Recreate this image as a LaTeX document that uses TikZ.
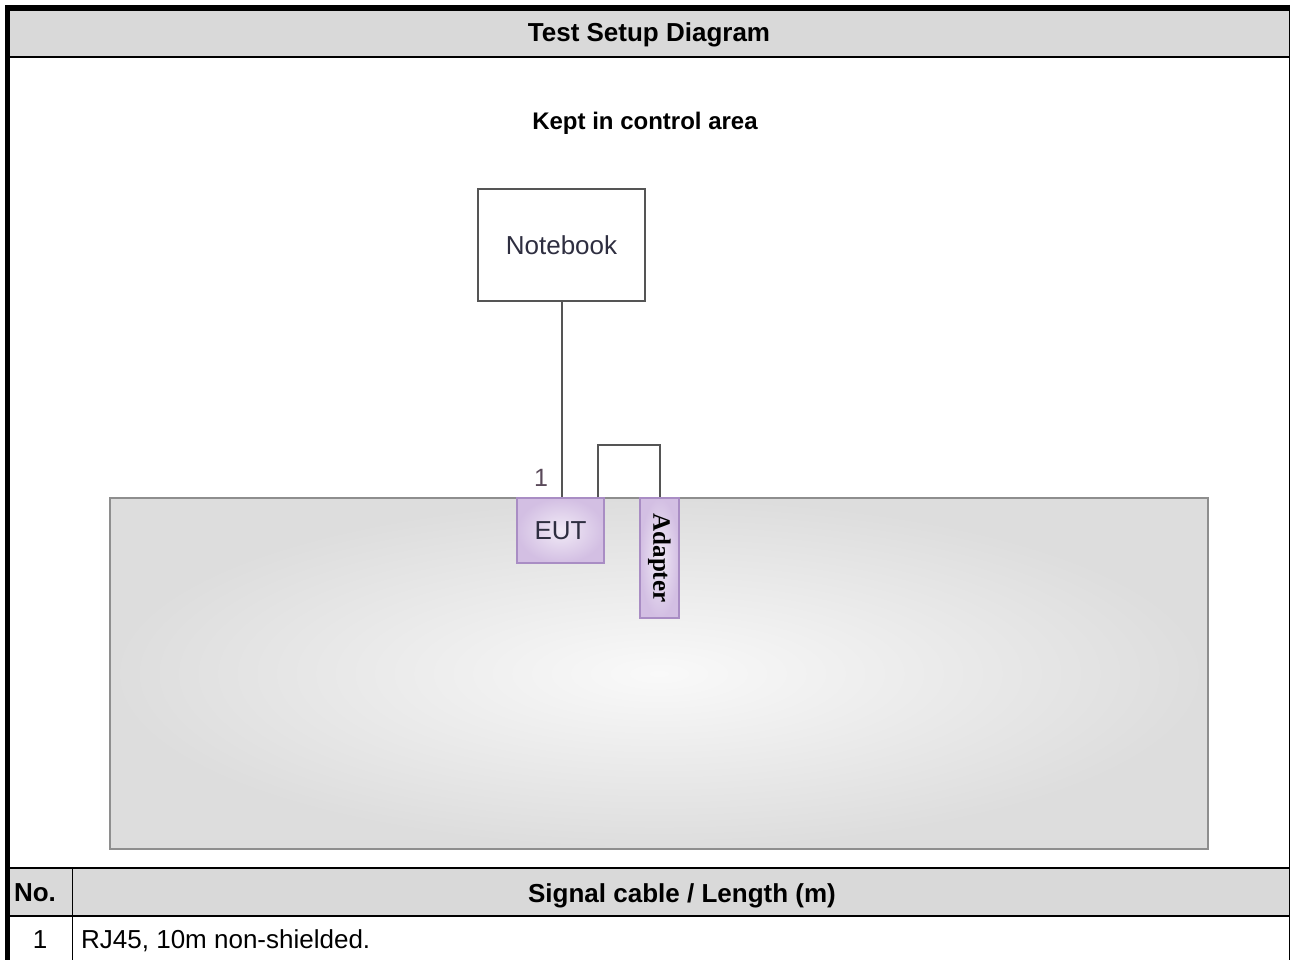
\documentclass[tikz,border=0pt]{standalone}
\usepackage{fontspec}
\setmainfont{Liberation Sans}
\newfontfamily\adapterfont{Liberation Serif}
\usetikzlibrary{positioning}

\definecolor{headgrey}{HTML}{D9D9D9}
\definecolor{wire}{HTML}{555555}
\definecolor{deskedge}{HTML}{8E8E8E}
\definecolor{deskmid}{HTML}{F9F9F9}
\definecolor{deskout}{HTML}{DDDDDD}
\definecolor{eutin}{HTML}{F1EAF6}
\definecolor{eutout}{HTML}{D3BFE3}
\definecolor{eutedge}{HTML}{A98DC4}
\definecolor{labelgrey}{HTML}{5A4A5A}
\definecolor{boxtext}{HTML}{2E2E40}

\newcommand{\bigtext}{\fontsize{26}{31}\selectfont}

\begin{document}
\begin{tikzpicture}[x=1pt,y=-1pt,
    every node/.style={inner sep=0pt},
    device/.style={draw=eutedge, line width=1.5pt, inner color=eutin, outer color=eutout},
    cable/.style={draw=wire, line width=2pt}]
  \useasboundingbox (0,0) rectangle (1291,960);

  % table frame
  \fill[headgrey] (10,11) rectangle (1290,56);
  \fill[headgrey] (10,868) rectangle (1290,915);
  \fill[black] (5,5) rectangle (1290,11);
  \fill[black] (5,5) rectangle (10,960);
  \draw[line width=1.5pt] (1289.3,5) -- (1289.3,960);
  \draw[line width=2.5pt] (10,57) -- (1290,57);
  \draw[line width=1.5pt] (10,868) -- (1290,868);
  \draw[line width=2.5pt] (10,916) -- (1290,916);
  \draw[line width=1.5pt] (72.5,868) -- (72.5,960);

  \node[anchor=base, font=\bigtext\bfseries] (title) at (649,42) {Test Setup Diagram};
  \node[anchor=base, font=\bigtext\bfseries] (nohead) at (35,901) {No.};
  \node[anchor=base, font=\bigtext\bfseries] (cablehead) at (682,902) {Signal cable / Length (m)};
  \node[anchor=base, font=\bigtext] (no1) at (40,948) {1};
  \node[anchor=base west, font=\bigtext] (cable1) at (81,948) {RJ45, 10m non-shielded.};

  % setup
  \node[anchor=base, font=\fontsize{24}{29}\selectfont\bfseries] (area) at (645,130) {Kept in control area};
  \node[draw=wire, line width=2pt, fill=white, minimum width=167pt, minimum height=112pt,
        font=\bigtext, text=boxtext] (notebook) at (561.5,245) {Notebook};

  \node[draw=deskedge, line width=2pt, inner color=deskmid, outer color=deskout,
        minimum width=1098pt, minimum height=351pt] (desk) at (659,673.5) {};

  \node[device, minimum width=87pt, minimum height=65pt, font=\bigtext, text=boxtext] (eut) at (560.5,530.5) {EUT};
  \node[device, minimum width=39pt, minimum height=120pt] (adapter) at (659.5,558)
        {\rotatebox{-90}{\fontsize{25}{30}\adapterfont\bfseries Adapter}};

  \draw[cable] (notebook.south) -- (notebook.south |- eut.north);
  \draw[cable] ([xshift=-7pt]eut.north east) -- ++(0,-52) -| (adapter.north);
  \node[anchor=base, font=\fontsize{25}{30}\selectfont, text=labelgrey] (lbl1) at (541,486) {1};
\end{tikzpicture}
\end{document}
